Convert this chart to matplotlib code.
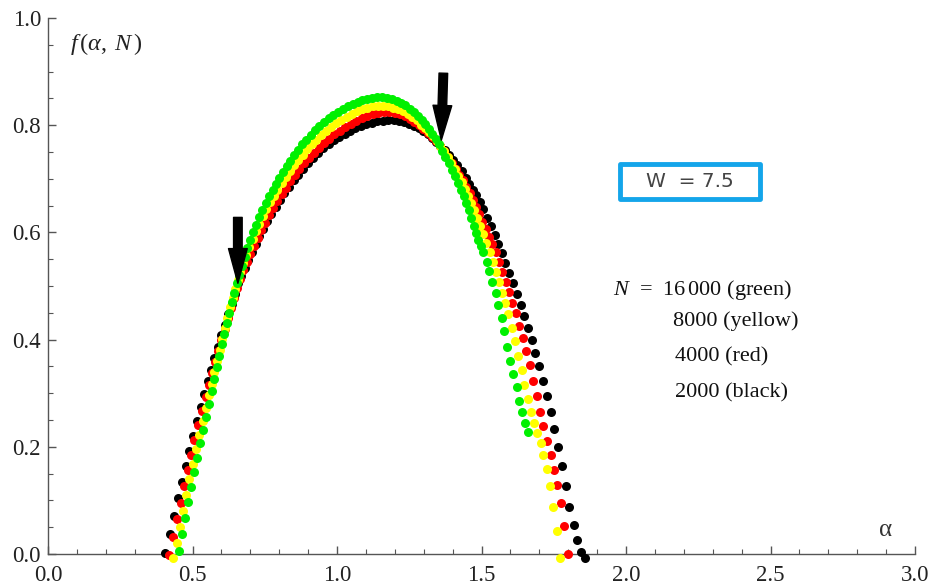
import matplotlib
matplotlib.use("Agg")
import matplotlib.pyplot as plt
from matplotlib.patches import Rectangle
from matplotlib.ticker import MultipleLocator

plt.rcParams['font.family'] = ['Liberation Serif', 'DejaVu Serif']
plt.rcParams['mathtext.fontset'] = 'custom'
plt.rcParams['mathtext.rm'] = 'Liberation Serif'
plt.rcParams['mathtext.it'] = 'Liberation Serif:italic'

# f(alpha) spectra
alpha_black = [0.405, 0.422, 0.436, 0.450, 0.464, 0.476, 0.489, 0.501, 0.514, 0.528, 0.540, 0.552, 0.564,
               0.576, 0.588, 0.600, 0.612, 0.624, 0.636, 0.647, 0.657, 0.668, 0.680, 0.692, 0.705, 0.718,
               0.731, 0.745, 0.759, 0.773, 0.788, 0.803, 0.818, 0.834, 0.850, 0.866, 0.883, 0.900, 0.917,
               0.935, 0.953, 0.971, 0.989, 1.007, 1.026, 1.045, 1.064, 1.083, 1.102, 1.121, 1.140, 1.159,
               1.178, 1.197, 1.215, 1.233, 1.250, 1.267, 1.283, 1.299, 1.314, 1.329, 1.344, 1.358, 1.372,
               1.386, 1.400, 1.415, 1.431, 1.446, 1.458, 1.470, 1.481, 1.495, 1.506, 1.520, 1.532, 1.547,
               1.558, 1.570, 1.582, 1.596, 1.610, 1.622, 1.636, 1.647, 1.660, 1.675, 1.686, 1.700, 1.714,
               1.726, 1.740, 1.752, 1.766, 1.779, 1.792, 1.804, 1.820, 1.832, 1.844, 1.858]
f_black = [0.002, 0.037, 0.071, 0.104, 0.135, 0.164, 0.193, 0.221, 0.249, 0.275, 0.299, 0.322, 0.344,
           0.366, 0.387, 0.408, 0.428, 0.448, 0.467, 0.486, 0.505, 0.519, 0.534, 0.549, 0.564, 0.579,
           0.593, 0.607, 0.621, 0.634, 0.647, 0.660, 0.673, 0.685, 0.697, 0.708, 0.719, 0.729, 0.739,
           0.748, 0.757, 0.765, 0.772, 0.778, 0.784, 0.790, 0.795, 0.799, 0.802, 0.805, 0.807, 0.808,
           0.809, 0.809, 0.808, 0.806, 0.803, 0.799, 0.795, 0.789, 0.783, 0.776, 0.769, 0.761, 0.753,
           0.744, 0.735, 0.725, 0.715, 0.702, 0.690, 0.680, 0.669, 0.657, 0.643, 0.627, 0.612, 0.596,
           0.579, 0.562, 0.543, 0.525, 0.506, 0.485, 0.465, 0.444, 0.422, 0.400, 0.375, 0.350, 0.322,
           0.295, 0.265, 0.234, 0.200, 0.165, 0.126, 0.088, 0.054, 0.026, 0.004, -0.008]

alpha_red = [0.420, 0.434, 0.447, 0.459, 0.472, 0.483, 0.495, 0.506, 0.520, 0.534, 0.545, 0.556, 0.567,
             0.578, 0.589, 0.600, 0.611, 0.622, 0.633, 0.644, 0.655, 0.665, 0.676, 0.688, 0.700, 0.712,
             0.725, 0.738, 0.751, 0.765, 0.779, 0.793, 0.808, 0.823, 0.838, 0.854, 0.870, 0.886, 0.903,
             0.920, 0.937, 0.955, 0.973, 0.991, 1.009, 1.028, 1.047, 1.066, 1.085, 1.104, 1.123, 1.142,
             1.161, 1.180, 1.199, 1.217, 1.235, 1.252, 1.268, 1.284, 1.299, 1.314, 1.329, 1.343, 1.357,
             1.371, 1.385, 1.398, 1.411, 1.423, 1.435, 1.447, 1.459, 1.470, 1.481, 1.492, 1.503, 1.514,
             1.525, 1.536, 1.549, 1.561, 1.572, 1.584, 1.595, 1.607, 1.618, 1.630, 1.643, 1.654, 1.668,
             1.679, 1.691, 1.702, 1.714, 1.726, 1.739, 1.751, 1.762, 1.775, 1.787, 1.800]
f_red = [-0.001, 0.032, 0.065, 0.096, 0.127, 0.157, 0.185, 0.212, 0.240, 0.267, 0.292, 0.315, 0.337,
         0.358, 0.379, 0.400, 0.420, 0.440, 0.459, 0.478, 0.496, 0.513, 0.529, 0.545, 0.560, 0.575,
         0.590, 0.604, 0.618, 0.632, 0.645, 0.658, 0.671, 0.683, 0.695, 0.707, 0.718, 0.729, 0.739,
         0.749, 0.758, 0.767, 0.775, 0.783, 0.790, 0.797, 0.803, 0.808, 0.813, 0.817, 0.820, 0.822,
         0.824, 0.824, 0.823, 0.821, 0.817, 0.812, 0.806, 0.800, 0.793, 0.786, 0.778, 0.770, 0.762,
         0.752, 0.741, 0.730, 0.719, 0.708, 0.697, 0.685, 0.673, 0.660, 0.647, 0.634, 0.620, 0.606,
         0.592, 0.578, 0.563, 0.545, 0.526, 0.507, 0.488, 0.469, 0.449, 0.426, 0.403, 0.378, 0.352,
         0.323, 0.295, 0.265, 0.238, 0.210, 0.185, 0.157, 0.129, 0.095, 0.052, 0.000]

alpha_yellow = [0.431, 0.445, 0.457, 0.468, 0.478, 0.489, 0.501, 0.512, 0.524, 0.535, 0.546, 0.557, 0.566,
                0.576, 0.585, 0.594, 0.603, 0.612, 0.621, 0.630, 0.639, 0.648, 0.657, 0.666, 0.676, 0.686,
                0.697, 0.708, 0.719, 0.731, 0.743, 0.755, 0.768, 0.781, 0.794, 0.808, 0.822, 0.836, 0.851,
                0.866, 0.881, 0.897, 0.913, 0.929, 0.946, 0.963, 0.980, 0.997, 1.015, 1.033, 1.051, 1.069,
                1.087, 1.105, 1.123, 1.141, 1.159, 1.177, 1.195, 1.212, 1.229, 1.245, 1.261, 1.276, 1.291,
                1.305, 1.319, 1.332, 1.345, 1.358, 1.371, 1.384, 1.396, 1.408, 1.420, 1.431, 1.442, 1.453,
                1.464, 1.475, 1.485, 1.495, 1.505, 1.515, 1.529, 1.539, 1.549, 1.561, 1.570, 1.581, 1.593,
                1.604, 1.616, 1.627, 1.639, 1.648, 1.660, 1.671, 1.682, 1.691, 1.705, 1.714, 1.726, 1.737,
                1.749, 1.760, 1.772]
f_yellow = [-0.007, 0.021, 0.051, 0.080, 0.110, 0.140, 0.168, 0.196, 0.222, 0.249, 0.273, 0.297, 0.318,
            0.339, 0.360, 0.381, 0.401, 0.421, 0.441, 0.460, 0.478, 0.495, 0.511, 0.526, 0.542, 0.558,
            0.573, 0.588, 0.602, 0.616, 0.630, 0.643, 0.656, 0.668, 0.680, 0.692, 0.703, 0.714, 0.725,
            0.735, 0.745, 0.755, 0.764, 0.773, 0.782, 0.790, 0.797, 0.804, 0.810, 0.816, 0.821, 0.826,
            0.830, 0.833, 0.835, 0.836, 0.836, 0.835, 0.833, 0.830, 0.826, 0.821, 0.815, 0.809, 0.801,
            0.794, 0.787, 0.779, 0.771, 0.762, 0.751, 0.740, 0.729, 0.718, 0.706, 0.694, 0.681, 0.668,
            0.655, 0.641, 0.627, 0.612, 0.597, 0.581, 0.563, 0.545, 0.526, 0.507, 0.487, 0.469, 0.448,
            0.422, 0.397, 0.370, 0.343, 0.316, 0.289, 0.264, 0.244, 0.226, 0.207, 0.184, 0.158, 0.127,
            0.088, 0.042, -0.008]

alpha_green = [0.454, 0.465, 0.474, 0.485, 0.494, 0.504, 0.515, 0.526, 0.535, 0.547, 0.557, 0.566, 0.576,
               0.584, 0.592, 0.601, 0.609, 0.618, 0.627, 0.636, 0.645, 0.653, 0.661, 0.670, 0.680, 0.690,
               0.700, 0.710, 0.720, 0.731, 0.742, 0.753, 0.765, 0.777, 0.789, 0.801, 0.813, 0.826, 0.839,
               0.852, 0.866, 0.880, 0.894, 0.909, 0.924, 0.939, 0.955, 0.971, 0.987, 1.003, 1.020, 1.037,
               1.054, 1.071, 1.088, 1.105, 1.122, 1.139, 1.156, 1.173, 1.190, 1.206, 1.222, 1.237, 1.252,
               1.266, 1.280, 1.293, 1.306, 1.318, 1.330, 1.342, 1.353, 1.364, 1.375, 1.386, 1.397, 1.407,
               1.418, 1.428, 1.438, 1.447, 1.456, 1.465, 1.473, 1.481, 1.489, 1.497, 1.506, 1.518, 1.527,
               1.537, 1.549, 1.558, 1.570, 1.579, 1.589, 1.599, 1.610, 1.622, 1.631, 1.641, 1.651, 1.662]
f_green = [0.006, 0.037, 0.068, 0.097, 0.125, 0.153, 0.179, 0.207, 0.232, 0.256, 0.280, 0.304, 0.327,
           0.348, 0.369, 0.391, 0.411, 0.431, 0.450, 0.470, 0.487, 0.505, 0.521, 0.538, 0.555, 0.571,
           0.586, 0.600, 0.614, 0.628, 0.641, 0.654, 0.667, 0.679, 0.691, 0.702, 0.713, 0.724, 0.734,
           0.744, 0.754, 0.764, 0.773, 0.782, 0.791, 0.799, 0.806, 0.813, 0.819, 0.825, 0.831, 0.836,
           0.840, 0.844, 0.847, 0.849, 0.851, 0.852, 0.852, 0.851, 0.849, 0.846, 0.842, 0.837, 0.831,
           0.825, 0.818, 0.810, 0.802, 0.793, 0.784, 0.774, 0.764, 0.752, 0.741, 0.729, 0.717, 0.705,
           0.693, 0.680, 0.667, 0.654, 0.641, 0.627, 0.612, 0.598, 0.585, 0.574, 0.563, 0.545, 0.528,
           0.507, 0.487, 0.464, 0.441, 0.416, 0.387, 0.361, 0.335, 0.311, 0.286, 0.264, 0.245, 0.227]

series = [
    (alpha_black, f_black, "black"),
    (alpha_red, f_red, "#ff0000"),
    (alpha_yellow, f_yellow, "#ffff00"),
    (alpha_green, f_green, "#00f000"),
]

legend_lines = ["$N$  =  16$\\,$000 (green)", "8000 (yellow)", "4000 (red)", "2000 (black)"]
w_label = "W  = 7.5"

fig = plt.figure(figsize=(9.31, 5.86), dpi=100)
ax = fig.add_axes([48 / 931, 32 / 586, 867 / 931, 536 / 586])

for i, (a, f, c) in enumerate(series):
    ax.plot(a, f, 'o', ms=6.5, color=c, mec='none', clip_on=False, zorder=3 + i)

ax.set_xlim(0, 3)
ax.set_ylim(0, 1)
for s in ['top', 'right']:
    ax.spines[s].set_visible(False)
for s in ['left', 'bottom']:
    ax.spines[s].set_color('#555555')
    ax.spines[s].set_linewidth(1.0)

ax.xaxis.set_major_locator(MultipleLocator(0.5))
ax.xaxis.set_minor_locator(MultipleLocator(0.1))
ax.yaxis.set_major_locator(MultipleLocator(0.2))
ax.yaxis.set_minor_locator(MultipleLocator(0.05))
ax.xaxis.set_major_formatter(matplotlib.ticker.FormatStrFormatter('%.1f'))
ax.yaxis.set_major_formatter(matplotlib.ticker.FormatStrFormatter('%.1f'))
ax.tick_params(which='major', direction='in', length=6, width=1, color='#555555',
               labelsize=16.5, labelcolor='#222222', pad=5)
ax.tick_params(axis='x', which='major', pad=8)
ax.tick_params(which='minor', direction='in', length=3.5, width=0.8, color='#555555')

# axis labels, Mathematica style
ax.text(2.875, 0.045, "α", fontsize=18, color='#333333', ha='left', va='center')
ax.text(0.075, 0.951, "$f\\,(\\alpha,\\; N\\,)$", fontsize=17.5, color='#222222', ha='left', va='center')

# arrows at the crossing points
arrow_style = 'simple,head_length=2.5,head_width=1.35,tail_width=0.62'
ax.annotate('', xy=(0.657, 0.505), xytext=(0.657, 0.628),
            arrowprops=dict(arrowstyle=arrow_style, fc='k', ec='k', shrinkA=0, shrinkB=0,
                            mutation_scale=10), zorder=10)
ax.annotate('', xy=(1.361, 0.772), xytext=(1.368, 0.897),
            arrowprops=dict(arrowstyle=arrow_style, fc='k', ec='k', shrinkA=0, shrinkB=0,
                            mutation_scale=10), zorder=10)

# W box
ax.add_patch(Rectangle((1.980, 0.662), 0.484, 0.065, fill=False, ec='#14a5ea', lw=3.5,
                       joinstyle='round', zorder=5))
ax.text(2.222, 0.695, w_label, fontsize=14.5, color='#444444', family='DejaVu Sans',
        ha='center', va='center')

# N legend text
ax.text(1.955, 0.493, legend_lines[0], fontsize=16, color='#111111', ha='left', va='center')
ax.text(2.163, 0.434, legend_lines[1], fontsize=16, color='#111111', ha='left', va='center')
ax.text(2.170, 0.368, legend_lines[2], fontsize=16, color='#111111', ha='left', va='center')
ax.text(2.170, 0.301, legend_lines[3], fontsize=16, color='#111111', ha='left', va='center')

fig.savefig("out.png", dpi=100)
